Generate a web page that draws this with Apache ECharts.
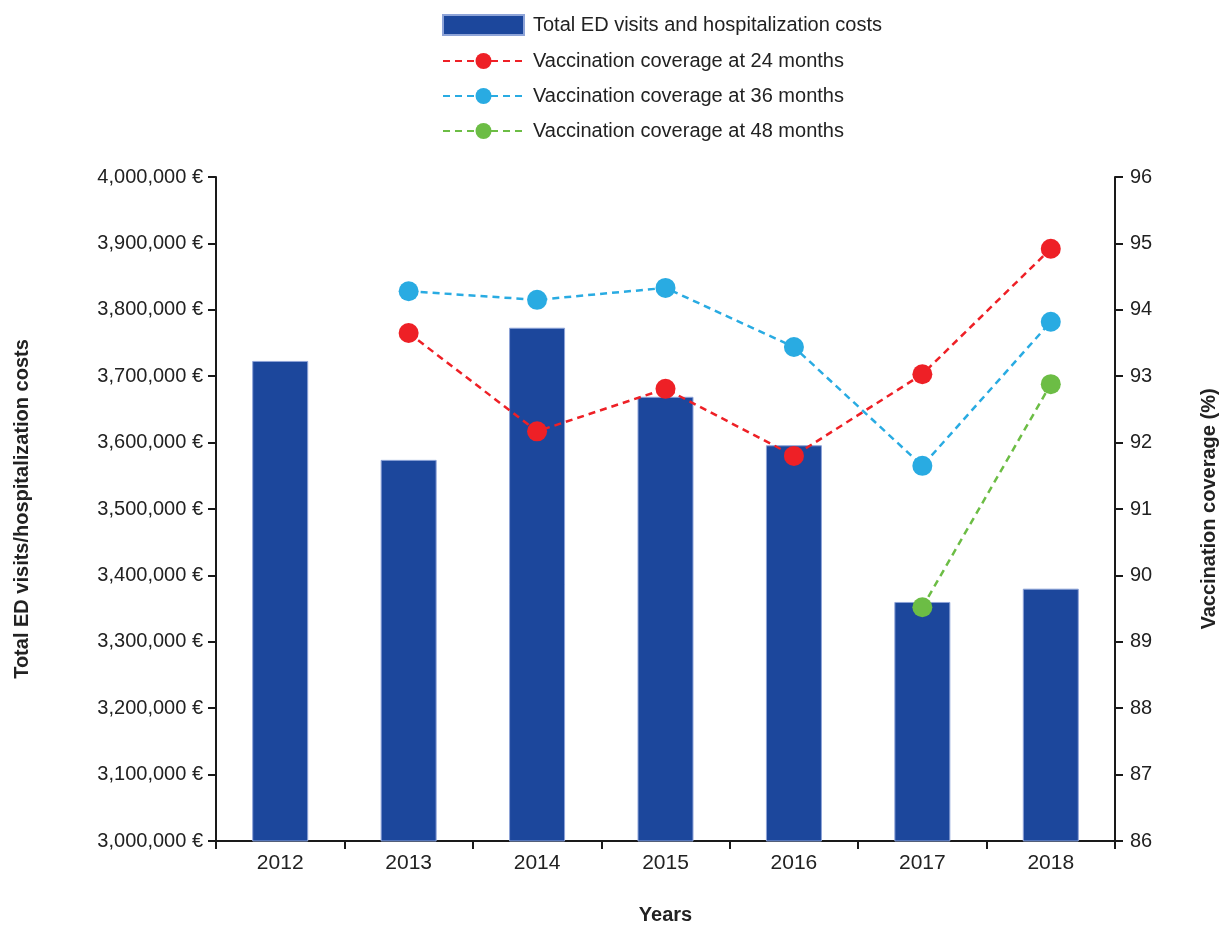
<!DOCTYPE html>
<html>
<head>
<meta charset="utf-8">
<script src="https://cdn.jsdelivr.net/npm/echarts@6/dist/echarts.min.js"></script>
<style>html,body{margin:0;padding:0;background:#fff}#c{width:1220px;height:925px}</style>
</head>
<body>
<div id="c"></div>
<script>
const years = ['2012','2013','2014','2015','2016','2017','2018'];
const costs = [3723000, 3574000, 3773000, 3669000, 3596000, 3360000, 3380000];
const cov24 = [null, 93.65, 92.17, 92.81, 91.80, 93.03, 94.92];
const cov36 = [null, 94.28, 94.15, 94.33, 93.44, 91.65, 93.82];
const cov48 = [null, null, null, null, null, 89.52, 92.88];

const chart = echarts.init(document.getElementById('c'));
const font = 'Liberation Sans, Arial, sans-serif';
const axisLine = {show:true, lineStyle:{color:'#1a1a1a', width:2}};
const axisTick = {show:true, length:8, lineStyle:{color:'#1a1a1a', width:2}};
const lbl = {color:'#222', fontSize:20, fontFamily:font};
const nameStyle = {color:'#222', fontSize:20, fontWeight:'bold', fontFamily:font};

function lineSeries(name, data, color){
  return {
    name, type:'line', yAxisIndex:1, data,
    symbol:'circle', symbolSize:20, connectNulls:false,
    itemStyle:{color},
    lineStyle:{color, width:2.5, type:[7,5]},
    z:3
  };
}

chart.setOption({
  animation:false,
  textStyle:{fontFamily:font},
  legend:{
    orient:'vertical', left:437, top:9,
    itemWidth:81, itemHeight:20, itemGap:15,
    textStyle:{color:'#222', fontSize:20, fontFamily:font, padding:[0,0,0,4]},
    data:[
      {name:'Total ED visits and hospitalization costs', icon:'rect'},
      'Vaccination coverage at 24 months','Vaccination coverage at 36 months','Vaccination coverage at 48 months']
  },
  grid:{left:216, right:105, top:177, bottom:84, outerBoundsMode:'none', containLabel:false},
  xAxis:{
    type:'category', data:years, boundaryGap:true,
    axisLine, axisTick:{...axisTick, alignWithLabel:false},
    axisLabel:{...lbl, fontSize:21, margin:12},
    name:'Years', nameLocation:'middle', nameGap:64, nameTextStyle:nameStyle
  },
  yAxis:[{
    type:'value', min:3000000, max:4000000, interval:100000,
    axisLine, axisTick, splitLine:{show:false},
    axisLabel:{...lbl, margin:13, formatter:v=>v.toLocaleString('en-US')+' €'},
    name:'Total ED visits/hospitalization costs', nameLocation:'middle', nameGap:184, nameRotate:90,
    nameTextStyle:nameStyle
  },{
    type:'value', min:86, max:96, interval:1, position:'right',
    axisLine, axisTick, splitLine:{show:false},
    axisLabel:{...lbl, margin:15},
    name:'Vaccination coverage (%)', nameLocation:'middle', nameGap:84, nameRotate:90,
    nameTextStyle:nameStyle
  }],
  series:[
    {name:'Total ED visits and hospitalization costs', type:'bar', data:costs, barWidth:56,
     itemStyle:{color:'#1c479c', borderColor:'#8ea4d8', borderWidth:1}, z:2},
    lineSeries('Vaccination coverage at 24 months', cov24, '#ee2026'),
    lineSeries('Vaccination coverage at 36 months', cov36, '#29abe2'),
    lineSeries('Vaccination coverage at 48 months', cov48, '#6cbd45')
  ]
});
</script>
</body>
</html>
